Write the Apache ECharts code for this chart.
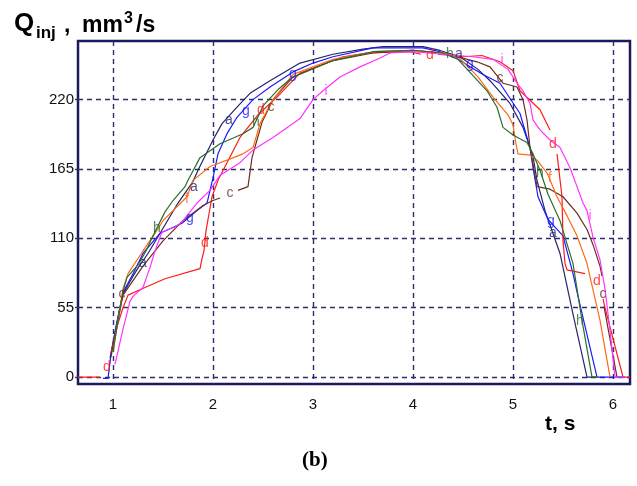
<!DOCTYPE html>
<html><head><meta charset="utf-8">
<script src="https://cdn.jsdelivr.net/npm/echarts@6/dist/echarts.min.js"></script>
<style>html,body{margin:0;padding:0;background:#fff}#c{width:637px;height:486px}</style>
</head><body><div id="c"></div>
<script>
const xTicks = [1, 2, 3, 4, 5, 6];
const yTicks = [0, 55, 110, 165, 220];

const curveA = [[0.97,15],[1.02,35],[1.06,52],[1.1,66],[1.2,80],[1.27,89],[1.35,98],[1.5,118],[1.65,138],[1.8,155],[1.85,164],[2.0,188],[2.09,201],[2.24,214],[2.37,225],[2.57,235],[2.87,249],[3.2,256],[3.5,260],[3.7,262],[4.1,262],[4.27,259],[4.47,254],[4.65,244],[4.77,235],[4.97,217],[5.1,198],[5.2,175],[5.24,156],[5.32,132],[5.47,98],[5.6,50],[5.74,0],[5.83,0]];
const curveG = [[0.9,-1],[0.95,-1],[0.98,18],[1.03,40],[1.07,55],[1.1,67],[1.2,82],[1.3,98],[1.47,114],[1.69,122],[1.84,132],[1.94,138],[2.0,158],[2.05,177],[2.14,193],[2.24,206],[2.4,220],[2.57,230],[2.8,242],[3.0,249],[3.2,254],[3.6,261],[4.1,261],[4.27,258],[4.45,252],[4.57,246],[4.7,240],[4.87,233],[5.07,209],[5.17,182],[5.2,166],[5.25,143],[5.35,125],[5.5,112],[5.6,82],[5.65,64],[5.84,0],[6.12,0]];
const curveD = [[0.65,0],[0.87,0],[0.92,null],[0.98,19],[1.04,40],[1.1,55],[1.15,65],[1.32,71],[1.52,78],[1.87,86],[1.89,94],[1.91,100],[1.93,116],[1.99,143],[2.05,156],[2.14,170],[2.27,190],[2.4,203],[2.45,208],[2.64,222],[2.87,241],[3.3,254],[3.54,257],[3.97,258],[4.08,256],[4.12,null],[4.25,256],[4.5,254],[4.69,255],[4.87,250],[5.0,243],[5.07,227],[5.27,212],[5.37,196],[5.4,null],[5.44,177],[5.49,143],[5.5,108],[5.52,90],[5.54,85],[5.72,82],[5.76,null],[5.9,62],[5.92,55],[6.1,0],[6.17,0]];
const curveC = [[0.98,16],[1.05,45],[1.1,65],[1.3,88],[1.5,108],[1.7,124],[1.9,136],[2.0,140],[2.07,142],[2.1,null],[2.25,148],[2.35,151],[2.39,174],[2.44,188],[2.49,202],[2.6,220],[2.8,238],[3.2,251],[3.6,257],[4.0,259],[4.3,257],[4.64,250],[4.77,246],[4.9,233],[5.04,230],[5.1,220],[5.14,204],[5.17,182],[5.24,151],[5.37,149],[5.5,143],[5.64,130],[5.74,117],[5.8,105],[5.87,88],[5.89,80],[5.9,null],[5.91,56],[6.04,0]];
const curveF = [[1.0,20],[1.06,50],[1.1,70],[1.15,82],[1.3,100],[1.42,114],[1.5,124],[1.74,143],[1.8,156],[1.97,167],[2.14,172],[2.3,177],[2.4,182],[2.47,201],[2.6,220],[2.8,240],[3.2,252],[3.6,258],[4.0,259],[4.3,257],[4.45,254],[4.65,238],[4.8,222],[4.95,208],[5.0,200],[5.03,185],[5.05,177],[5.17,176],[5.24,172],[5.34,162],[5.44,143],[5.54,128],[5.64,112],[5.74,90],[5.87,45],[5.97,0]];
const curveH = [[1.0,20],[1.05,45],[1.1,68],[1.14,79],[1.25,89],[1.33,100],[1.4,112],[1.52,131],[1.6,140],[1.72,151],[1.75,156],[1.87,174],[2.07,185],[2.3,193],[2.4,198],[2.5,215],[2.65,228],[2.8,238],[3.2,251],[3.6,258],[4.0,259],[4.3,257],[4.45,252],[4.6,239],[4.74,227],[4.84,214],[4.9,198],[5.0,192],[5.14,186],[5.2,177],[5.27,164],[5.35,145],[5.47,124],[5.6,90],[5.69,45],[5.79,0],[5.85,0]];
const curveI = [[1.02,10],[1.1,38],[1.17,60],[1.2,64],[1.3,71],[1.37,87],[1.42,100],[1.49,115],[1.62,119],[1.69,123],[1.84,138],[1.97,148],[2.07,160],[2.27,170],[2.4,180],[2.6,190],[2.87,205],[3.0,220],[3.1,227],[3.27,238],[3.47,246],[3.67,253],[3.77,257],[4.0,258],[4.3,256],[4.6,254],[4.8,252],[4.95,244],[5.05,232],[5.1,227],[5.17,217],[5.2,204],[5.27,196],[5.37,188],[5.47,182],[5.57,166],[5.64,151],[5.7,138],[5.74,132],[5.8,111],[5.87,93],[5.92,70],[5.97,37],[6.02,0],[6.12,0]];

const curveNames = ['a','g','d','c','f','h','i'];
const curveColors = ['#24246e','#1a1aff','#ff1a1a','#6e2e1e','#ff6a14','#2a6e2a','#ff33ff'];

// letter annotations: [x, y, letter, curve index]
const letterMarks = [
  [0.94,8,'d',2],[1.09,66,'c',3],[1.30,90,'a',0],[1.44,118,'h',5],[1.77,126,'g',1],
  [1.81,151,'a',0],[1.74,141,'f',4],[1.92,106,'d',2],[2.17,146,'c',3],[2.16,204,'a',0],
  [2.33,211,'g',1],[2.48,212,'d',2],[2.58,214,'c',3],[2.43,202,'h',5],[2.80,240,'g',1],
  [3.13,227,'i',6],[4.17,255,'d',2],[4.37,256,'h',5],[4.46,256,'a',0],[4.57,248,'g',1],
  [4.89,251,'i',6],[4.87,237,'c',3],[5.40,185,'d',2],[5.27,162,'h',5],[5.37,158,'f',4],
  [5.38,124,'g',1],[5.40,114,'a',0],[5.77,128,'i',6],[5.84,76,'d',2],[5.90,66,'c',3],
  [5.67,44,'h',5]
];

const curves = [curveA, curveG, curveD, curveC, curveF, curveH, curveI];

const gridLine = {type:[5,4], color:'#2e2e6e', width:1.4};
const chart = echarts.init(document.getElementById('c'), null, {renderer:'canvas'});

const series = curves.map((d, i) => ({
  type:'line', name:curveNames[i], data:d, showSymbol:false, symbol:'none',
  connectNulls:false, lineStyle:{color:curveColors[i], width:1.2}, z:3, animation:false
}));
series.push({
  type:'scatter', symbolSize:0, z:4, animation:false, silent:true,
  data: letterMarks.map(m => ({
    value:[m[0], m[1]],
    label:{show:true, position:'inside', formatter:m[2], color:curveColors[m[3]],
      fontFamily:'Liberation Sans', fontSize:14}
  }))
});

chart.setOption({
  animation:false,
  backgroundColor:'#fff',
  grid:{left:78, right:7, top:41, bottom:102, show:true, borderColor:'#1a1a5e', borderWidth:2.5, backgroundColor:'transparent'},
  xAxis:{type:'value', min:0.65, max:6.17,
    axisLine:{show:false},
    axisTick:{show:false, customValues:xTicks},
    axisLabel:{customValues:xTicks, margin:13, color:'#111', fontFamily:'Liberation Sans', fontSize:15},
    splitLine:{show:true, lineStyle:gridLine}},
  yAxis:{type:'value', min:-5.5, max:266.5,
    axisLine:{show:false},
    axisTick:{show:true, customValues:yTicks, length:3, lineStyle:gridLine},
    axisLabel:{customValues:yTicks, margin:4, color:'#111', fontFamily:'Liberation Sans', fontSize:15},
    splitLine:{show:true, lineStyle:gridLine}},
  graphic:[
    {type:'text', left:14, top:11, style:{text:'Q', font:'bold 26px "Liberation Sans"', fill:'#000'}},
    {type:'text', left:36, top:25, style:{text:'inj', font:'bold 17px "Liberation Sans"', fill:'#000'}},
    {type:'text', left:64, top:14, style:{text:',', font:'bold 23px "Liberation Sans"', fill:'#000'}},
    {type:'text', left:82, top:14, style:{text:'mm', font:'bold 23px "Liberation Sans"', fill:'#000'}},
    {type:'text', left:124, top:11, style:{text:'3', font:'bold 16px "Liberation Sans"', fill:'#000'}},
    {type:'text', left:136, top:14, style:{text:'/s', font:'bold 23px "Liberation Sans"', fill:'#000'}},
    {type:'text', left:545, top:414, style:{text:'t, s', font:'bold 21px "Liberation Sans"', fill:'#000'}},
    {type:'text', left:302, top:450, style:{text:'(b)', font:'bold 21px "Liberation Serif"', fill:'#000'}}
  ],
  series:series
});
</script></body></html>
